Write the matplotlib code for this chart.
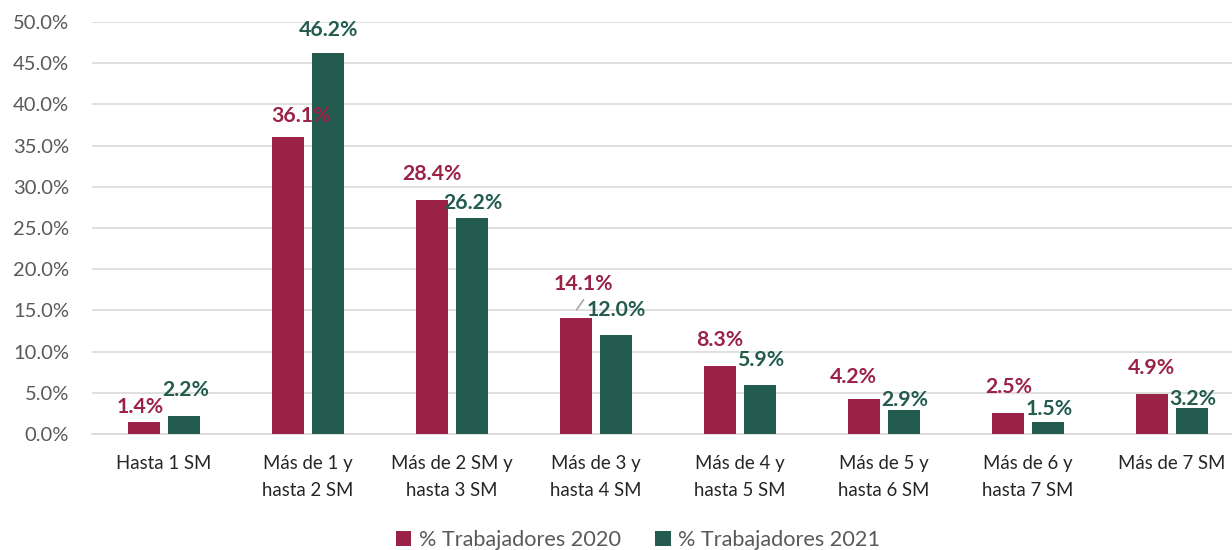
import matplotlib
matplotlib.use("Agg")
import matplotlib.pyplot as plt
import numpy as np
from matplotlib.transforms import offset_copy
from matplotlib.patches import ConnectionPatch

categories = ["Hasta 1 SM", "Más de 1 y\nhasta 2 SM", "Más de 2 SM y\nhasta 3 SM", "Más de 3 y\nhasta 4 SM",
              "Más de 4 y\nhasta 5 SM", "Más de 5 y\nhasta 6 SM", "Más de 6 y\nhasta 7 SM", "Más de 7 SM"]
trab_2020 = [1.4, 36.1, 28.4, 14.1, 8.3, 4.2, 2.5, 4.9]
trab_2021 = [2.2, 46.2, 26.2, 12.0, 5.9, 2.9, 1.5, 3.2]
series_names = ["% Trabajadores 2020", "% Trabajadores 2021"]
yticks = [0, 5, 10, 15, 20, 25, 30, 35, 40, 45, 50]

# label offsets in pixels (dx, dy: text center relative to bar top center)
off_2020 = [(-3.5, 15.5), (13.5, 20.5), (0, 25.5), (8, 34), (0, 25.6), (-10.5, 22.4), (1, 26), (0, 25.6)]
off_2021 = [(1, 26), (0, 23.3), (0, 15.5), (0, 25.5), (0, 25.4), (0.5, 10.5), (0.5, 13), (0, 8.6)]

c20 = "#9B2247"
c21 = "#235B4E"
plt.rcParams['font.family'] = ['Lato', 'DejaVu Sans']

fig = plt.figure(figsize=(12.32, 5.5), dpi=100)
ax = fig.add_axes([92/1232, 1-434/550, 1152/1232, (434-22)/550])

x = np.arange(len(categories))
w = 0.222
d = 0.142
b1 = ax.bar(x - d, trab_2020, w, color=c20, zorder=3, label=series_names[0])
b2 = ax.bar(x + d, trab_2021, w, color=c21, zorder=3, label=series_names[1])

ax.set_xlim(-0.5, len(categories) - 0.5)
ax.set_ylim(0, 50)

px = 0.72
for bars, vals, offs, col in [(b1, trab_2020, off_2020, c20), (b2, trab_2021, off_2021, c21)]:
    for bar, v, (dx, dy) in zip(bars, vals, offs):
        ax.annotate(f"{v:.1f}%", (bar.get_x() + bar.get_width()/2, v),
                    xytext=(dx*px, dy*px), textcoords="offset points",
                    ha="center", va="center", fontsize=15.3, fontweight="bold", color=col, zorder=4)

# leader line for the 14.1% label
b = b1[3]
xc = b.get_x() + b.get_width()/2
tr0 = offset_copy(ax.transData, fig=fig, x=1*px, y=8*px, units="points")
tr1 = offset_copy(ax.transData, fig=fig, x=8*px, y=18*px, units="points")
cp = ConnectionPatch(xyA=(xc, trab_2020[3]), coordsA=tr0, xyB=(xc, trab_2020[3]), coordsB=tr1,
                     color="#A6A6A6", lw=1.2, zorder=5)
ax.add_artist(cp)

ax.set_yticks(yticks)
ax.set_yticklabels([f"{t:.1f}%" for t in yticks])
ax.set_xticks(x)
ax.set_xticklabels(categories, fontsize=13.4, color="#262626", linespacing=1.75)
ax.tick_params(axis="y", labelsize=14.5, labelcolor="#595959", length=0, pad=16.5)
ax.tick_params(axis="x", length=0, pad=15)
ax.grid(axis="y", color="#D9D9D9", lw=1.2, zorder=0)
for s in ["top", "right", "left"]:
    ax.spines[s].set_visible(False)
ax.spines["bottom"].set_color("#D9D9D9")
ax.spines["bottom"].set_linewidth(1.2)

leg = fig.legend(handles=[b1, b2], labels=series_names, loc="center", bbox_to_anchor=(638/1232, 1-540/550),
                 ncol=2, frameon=False, fontsize=15.6, handlelength=0.7, handleheight=0.7,
                 columnspacing=1.6, handletextpad=0.35, labelcolor="#595959")

fig.savefig("out.png", dpi=100)
